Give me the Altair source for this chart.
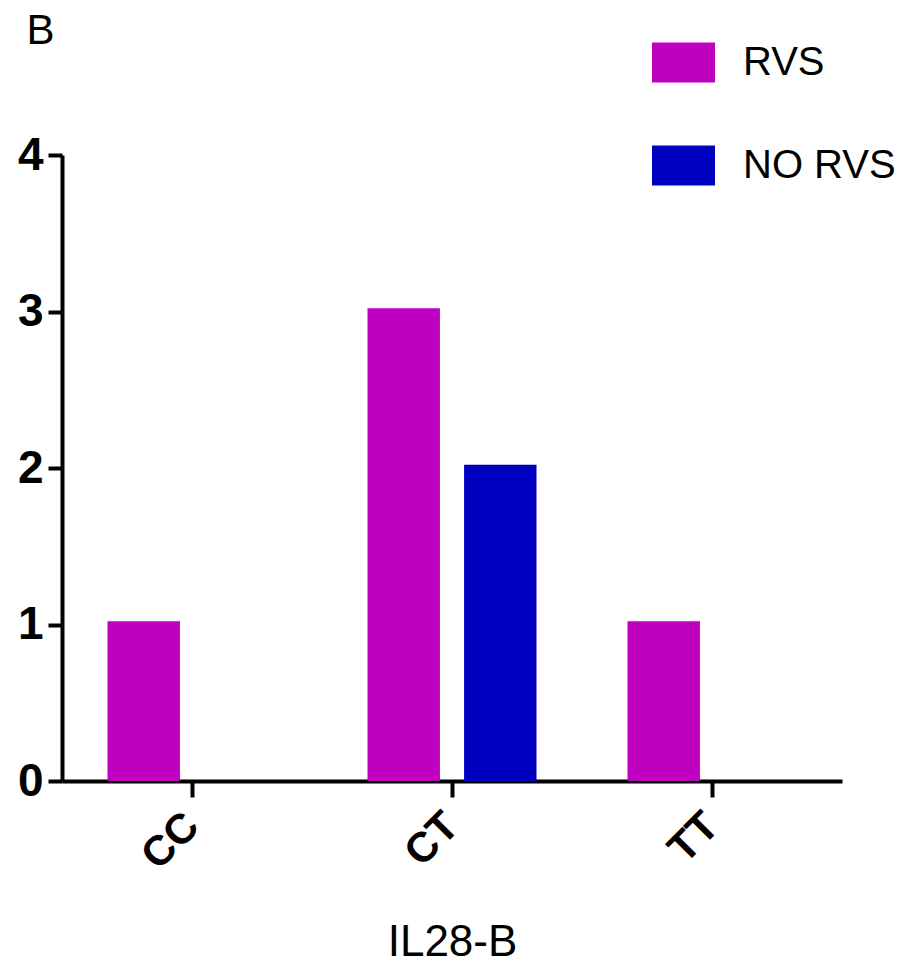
import altair as alt
import pandas as pd

genotypes = ["CC", "CT", "TT"]
groups = ["RVS", "NO RVS"]
rvs_values = [1.02, 3.02, 1.02]
no_rvs_values = [0, 2.02, 0]
y_ticks = [0, 1, 2, 3, 4]
colors = ["#C000C0", "#0000C0"]

rows = []
for g, r, n in zip(genotypes, rvs_values, no_rvs_values):
    rows.append({"genotype": g, "group": "RVS", "count": r})
    rows.append({"genotype": g, "group": "NO RVS", "count": n})
df = pd.DataFrame(rows)

FONT = "Liberation Sans, Arial, sans-serif"

chart = alt.Chart(df).mark_bar().encode(
    x=alt.X(
        "genotype:N",
        sort=genotypes,
        scale=alt.Scale(paddingInner=0.35, paddingOuter=0.175),
        axis=alt.Axis(
            title="IL28-B",
            labelAngle=-45,
            labelAlign="right",
            labelBaseline="middle",
            labelPadding=22,
            labelFontSize=42,
            labelFont=FONT,
            labelFontWeight="bold",
            labelColor="black",
            tickSize=16,
            tickWidth=4,
            tickColor="black",
            domainWidth=4,
            domainColor="black",
            titleFontSize=44,
            titleFont=FONT,
            titleFontWeight="normal",
            titleColor="black",
            titlePadding=44,
        ),
    ),
    xOffset=alt.XOffset(
        "group:N",
        sort=groups,
        scale=alt.Scale(domain=groups, paddingInner=0.25, paddingOuter=0),
    ),
    y=alt.Y(
        "count:Q",
        scale=alt.Scale(domain=[0, 4], nice=False),
        axis=alt.Axis(
            values=y_ticks,
            title=None,
            grid=False,
            format="d",
            labelFontSize=46,
            labelFont=FONT,
            labelFontWeight="bold",
            labelColor="black",
            labelPadding=5,
            tickSize=14,
            tickWidth=4,
            tickColor="black",
            domainWidth=4,
            domainColor="black",
        ),
    ),
    color=alt.Color(
        "group:N",
        sort=groups,
        scale=alt.Scale(domain=groups, range=colors),
        legend=alt.Legend(
            title=None,
            orient="none",
            legendX=590,
            legendY=-124,
            symbolType="M-1,-0.635L1,-0.635L1,0.635L-1,0.635Z",
            symbolSize=3969,
            symbolStrokeWidth=0,
            symbolOpacity=1,
            labelFontSize=40,
            labelFont=FONT,
            labelColor="black",
            labelOffset=28,
            labelLimit=400,
            rowPadding=51,
            padding=0,
        ),
    ),
).properties(
    width=780,
    height=626,
    title=alt.TitleParams(
        "B",
        anchor="start",
        fontSize=42,
        font=FONT,
        fontWeight="normal",
        color="black",
        dx=9,
        dy=22,
        offset=0,
    ),
    autosize=alt.AutoSizeParams(type="none"),
    padding={"left": 62, "top": 155, "right": 81, "bottom": 184},
).configure_view(stroke=None)

chart.save("out.html", embed_options={"renderer": "svg", "actions": False})
